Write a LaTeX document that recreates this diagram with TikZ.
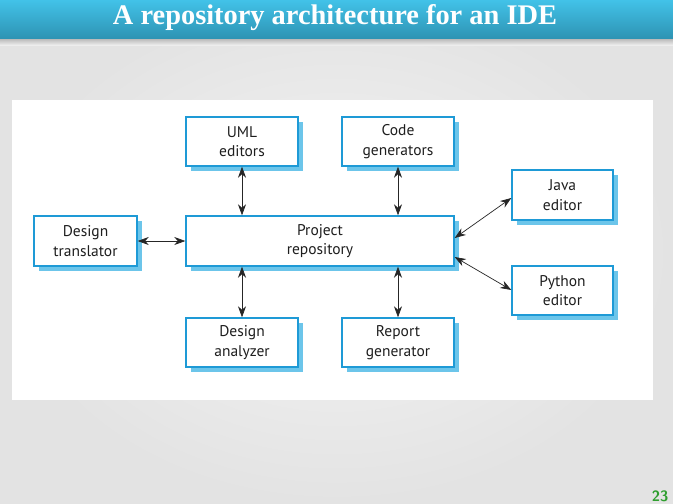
\documentclass[tikz,border=0pt]{standalone}
\usepackage{fontspec}
\setmainfont{Liberation Serif}
\newfontfamily\boxfont{PT Sans}
\usetikzlibrary{arrows.meta,shadows}
\definecolor{bordercol}{HTML}{1E9AD6}
\definecolor{shadowcol}{HTML}{6CC5EA}
\definecolor{textcol}{HTML}{1E1E1E}
\definecolor{titletop}{HTML}{42C2E8}
\definecolor{titlebot}{HTML}{2E94B4}
\definecolor{pagegreen}{HTML}{2E9E2E}
\tikzset{
  comp/.style={draw=bordercol, line width=1.4pt, fill=white, align=center,
    font=\boxfont\fontsize{15.5}{19.5}\selectfont, text=textcol,
    inner sep=0pt,
    drop shadow={shadow xshift=5pt, shadow yshift=-5pt, fill=shadowcol, opacity=1}},
  link/.style={{Stealth[length=11pt,width=8pt,inset=3.5pt]}-{Stealth[length=11pt,width=8pt,inset=3.5pt]}, line width=0.7pt, black!85}
}
\begin{document}
\begin{tikzpicture}[x=1pt,y=-1pt]
\useasboundingbox (0,0) rectangle (673,504);
% background
\shade[inner color=white!96!black, outer color=white!89!black] (0,0) rectangle (673,504);
% title bar shadow
\shade[top color=black!30, bottom color=white!93!black] (0,38) rectangle (673,45);
\shade[top color=titletop, bottom color=titlebot] (0,0) rectangle (673,38);
\node[text=white, font=\bfseries\fontsize{28.4}{32}\selectfont] (title) at (335,18) {A repository architecture for an IDE};
% white panel
\fill[white] (12,100) rectangle (653,400);
% components
\node[comp, minimum width=112pt, minimum height=49pt] (uml) at (242,141.5) {UML\\editors};
\node[comp, minimum width=112pt, minimum height=49pt] (code) at (398,141.5) {Code\\generators};
\node[comp, minimum width=101pt, minimum height=50pt] (java) at (562.5,195) {Java\\editor};
\node[comp, minimum width=103pt, minimum height=50pt] (trans) at (85.5,241) {Design\\translator};
\node[comp, minimum width=268pt, minimum height=50pt] (repo) at (320,241) {Project\\repository};
\node[comp, minimum width=101pt, minimum height=49pt] (python) at (562.5,290.5) {Python\\editor};
\node[comp, minimum width=112pt, minimum height=49pt] (anal) at (242,342.5) {Design\\analyzer};
\node[comp, minimum width=112pt, minimum height=49pt] (report) at (398,342.5) {Report\\generator};
% connectors
\draw[link] (uml.south) -- (uml.south |- repo.north);
\draw[link] (code.south) -- (code.south |- repo.north);
\draw[link] (trans.east) -- (repo.west);
\draw[link] (repo.east |- 0,238) -- (java.west |- 0,198);
\draw[link] (repo.east |- 0,257) -- (python.west |- 0,290);
\draw[link] (anal.north |- repo.south) -- (anal.north);
\draw[link] (report.north |- repo.south) -- (report.north);
% page number
\node[text=pagegreen, font=\sffamily\bfseries\fontsize{15}{17}\selectfont] (pnum) at (660,496) {23};
\end{tikzpicture}
\end{document}
